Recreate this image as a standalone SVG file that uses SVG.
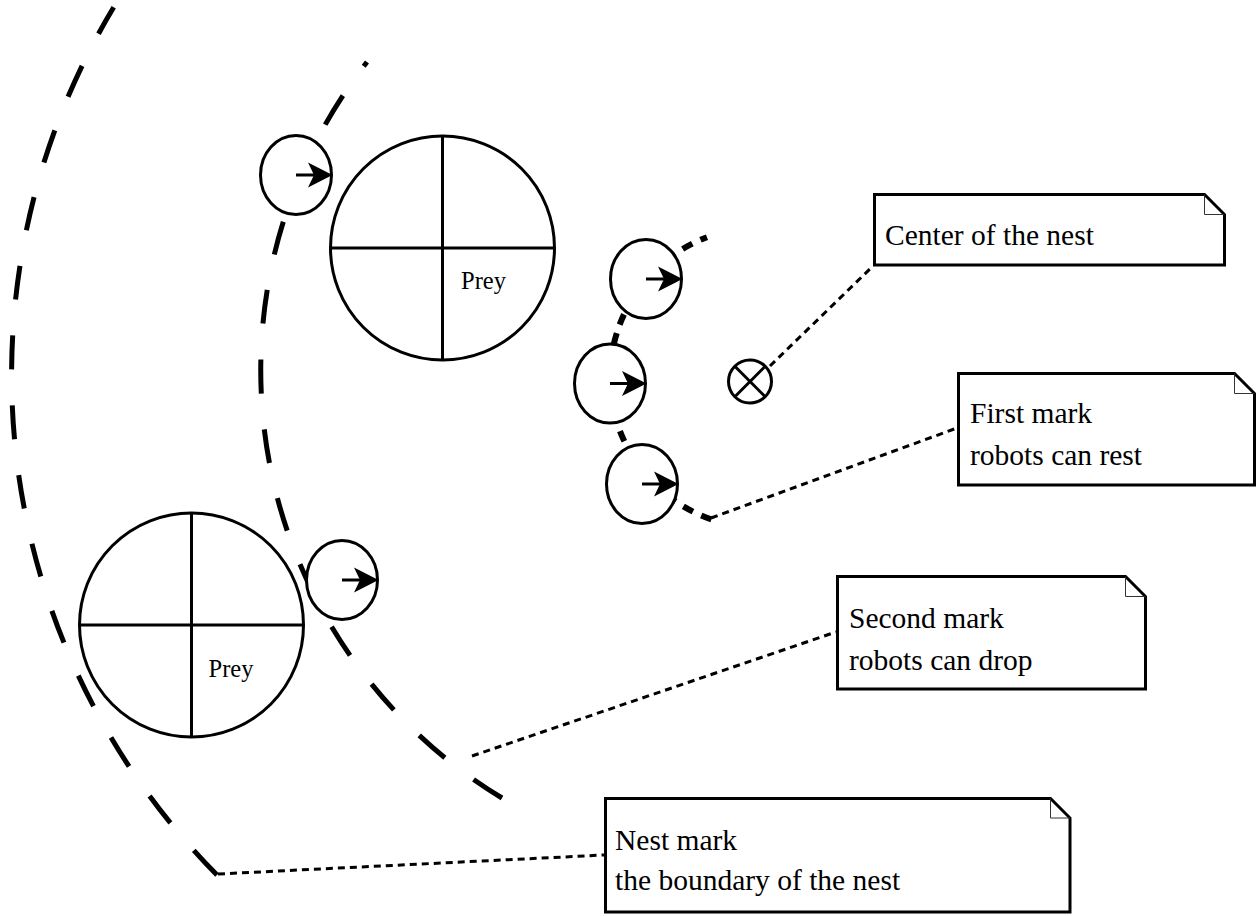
<svg xmlns="http://www.w3.org/2000/svg" xmlns:xlink="http://www.w3.org/1999/xlink" width="1257" height="916" viewBox="0 0 1257 916">
  <style>
    .mark { fill: none; stroke: #000; stroke-width: 5; stroke-dasharray: 34 36; }
    .mark-inner { fill: none; stroke: #000; stroke-width: 6; stroke-dasharray: 11 9; }
    .body { fill: #fff; stroke: #000; stroke-width: 3; }
    .cross { stroke: #000; stroke-width: 3; }
    .link { fill: none; stroke: #000; stroke-width: 3; stroke-dasharray: 7 5; }
    .note { fill: #fff; stroke: #000; stroke-width: 3; stroke-linejoin: miter; }
    .fold { fill: none; stroke: #333; stroke-width: 1; }
    .label { font-family: "Liberation Serif", "Times New Roman", serif; font-size: 29.5px; fill: #000; }
    .prey-label { font-family: "Liberation Serif", "Times New Roman", serif; font-size: 24.5px; fill: #000; }
  </style>
  <defs>
    <!-- robot: body outline with heading arrow -->
    <g id="robot-shape">
      <ellipse cx="0" cy="0" rx="35.5" ry="39.5" class="body"/>
      <line x1="0" y1="0" x2="20" y2="0" stroke="#000" stroke-width="3"/>
      <path d="M36.5,0 L12,-12.5 L18,0 L12,12.5 Z" fill="#000"/>
    </g>
  </defs>

  <!-- nest marks (concentric dashed arcs) -->
  <g id="marks">
    <path id="nest-mark" class="mark" d="M217,875 A712,712 0 0 1 113.7,7.3"/>
    <path id="second-mark" class="mark" d="M502,798 A500,500 0 0 1 367,62"/>
    <path id="first-mark" class="mark-inner" d="M711.4,519.4 A150,150 0 0 1 707,237.2"/>
  </g>

  <!-- prey objects -->
  <g id="prey-1">
    <circle cx="442.5" cy="248" r="112" class="body"/>
    <line x1="330.5" y1="248" x2="554.5" y2="248" class="cross"/>
    <line x1="442.5" y1="136" x2="442.5" y2="360" class="cross"/>
    <text x="483.5" y="289" text-anchor="middle" class="prey-label">Prey</text>
  </g>
  <g id="prey-2">
    <circle cx="191.5" cy="625" r="112" class="body"/>
    <line x1="79.5" y1="625" x2="303.5" y2="625" class="cross"/>
    <line x1="191.5" y1="513" x2="191.5" y2="737" class="cross"/>
    <text x="231" y="677" text-anchor="middle" class="prey-label">Prey</text>
  </g>

  <!-- robots -->
  <g id="robot-1"><use xlink:href="#robot-shape" x="296" y="175"/></g>
  <g id="robot-2"><use xlink:href="#robot-shape" x="646" y="279"/></g>
  <g id="robot-3"><use xlink:href="#robot-shape" x="610" y="383.5"/></g>
  <g id="robot-4"><use xlink:href="#robot-shape" x="642" y="484"/></g>
  <g id="robot-5"><use xlink:href="#robot-shape" x="342" y="580"/></g>

  <!-- center of the nest -->
  <g id="nest-center">
    <circle cx="750" cy="381.5" r="21.5" fill="#fff" stroke="#000" stroke-width="3"/>
    <line x1="734.8" y1="366.3" x2="765.2" y2="396.7" class="cross"/>
    <line x1="734.8" y1="396.7" x2="765.2" y2="366.3" class="cross"/>
  </g>

  <!-- annotation links -->
  <g id="connectors">
    <line class="link" x1="770" y1="366" x2="873" y2="266"/>
    <line class="link" x1="711" y1="518" x2="957" y2="428"/>
    <line class="link" x1="472" y1="756" x2="836" y2="632"/>
    <line class="link" x1="218" y1="874" x2="604" y2="855"/>
  </g>

  <!-- notes -->
  <g id="note-center">
    <path class="note" d="M874.5,194.5 H1204.5 L1224.5,214.5 V265 H874.5 Z"/>
    <path class="fold" d="M1204.5,194.5 V214.5 H1224.5"/>
    <text class="label" x="885" y="245">Center of the nest</text>
  </g>
  <g id="note-first">
    <path class="note" d="M958.5,373.5 H1234.5 L1254.5,393.5 V485 H958.5 Z"/>
    <path class="fold" d="M1234.5,373.5 V393.5 H1254.5"/>
    <text class="label" x="970" y="423">First mark</text>
    <text class="label" x="970" y="465">robots can rest</text>
  </g>
  <g id="note-second">
    <path class="note" d="M837.5,576.5 H1125.5 L1145.5,596.5 V689 H837.5 Z"/>
    <path class="fold" d="M1125.5,576.5 V596.5 H1145.5"/>
    <text class="label" x="849" y="628">Second mark</text>
    <text class="label" x="849" y="670">robots can drop</text>
  </g>
  <g id="note-nest">
    <path class="note" d="M605.5,798.5 H1050.5 L1070,818 V912 H605.5 Z"/>
    <path class="fold" d="M1050.5,798.5 V818 H1070"/>
    <text class="label" x="615" y="850">Nest mark</text>
    <text class="label" x="615" y="890">the boundary of the nest</text>
  </g>
</svg>
